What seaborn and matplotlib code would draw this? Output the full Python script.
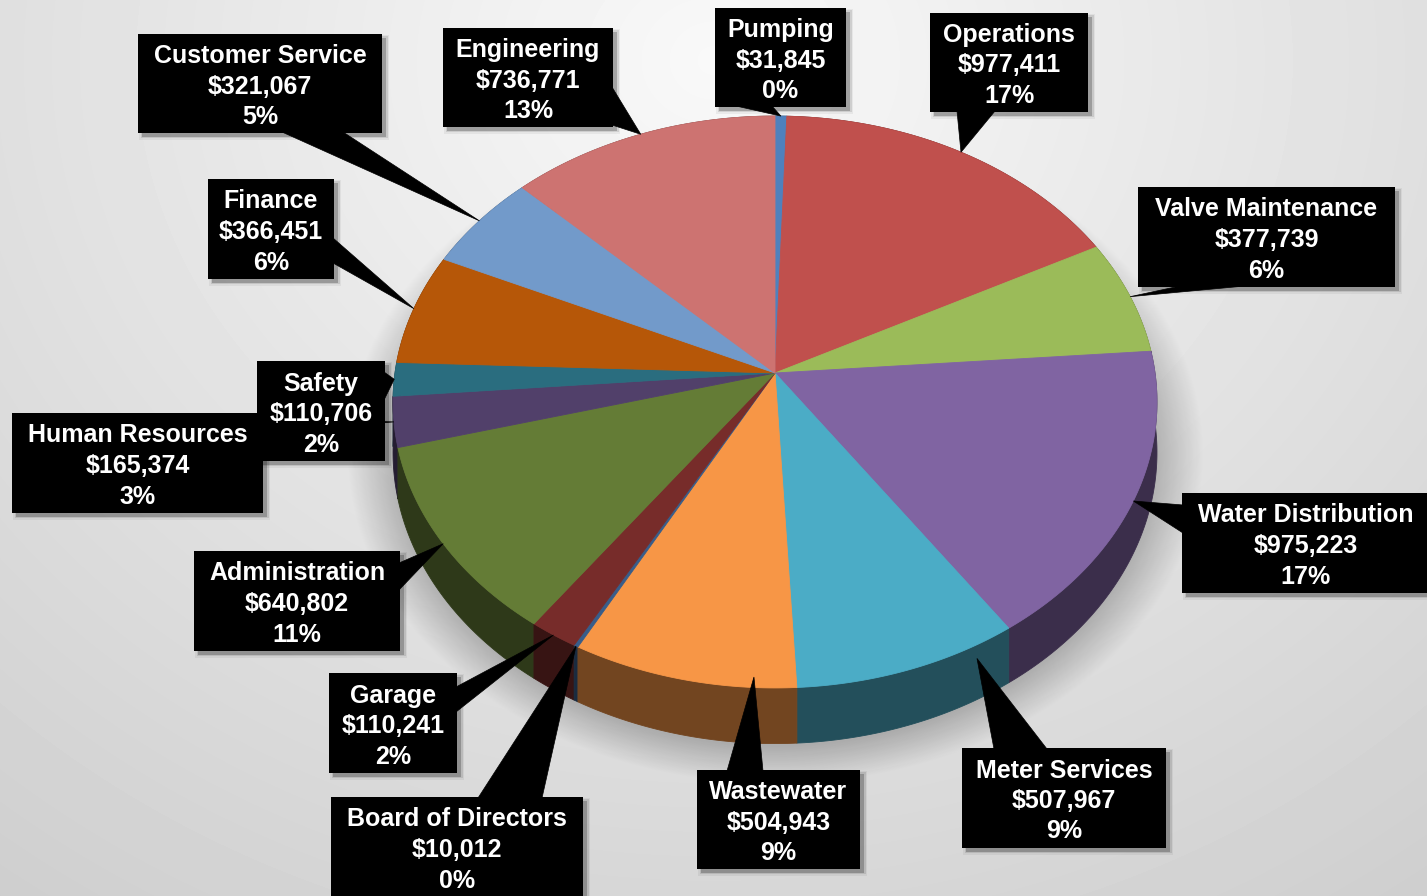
import numpy as np
import matplotlib
matplotlib.use("Agg")
import matplotlib.pyplot as plt
from matplotlib.patches import Polygon, Rectangle
import seaborn as sns

# ---- data -------------------------------------------------------------
categories = ["Pumping", "Operations", "Valve Maintenance", "Water Distribution",
              "Meter Services", "Wastewater", "Board of Directors", "Garage",
              "Administration", "Human Resources", "Safety", "Finance",
              "Customer Service", "Engineering"]
values = [31845, 977411, 377739, 975223, 507967, 504943, 10012, 110241,
          640802, 165374, 110706, 366451, 321067, 736771]
percent_labels = ["0%", "17%", "6%", "17%", "9%", "9%", "0%", "2%",
                  "11%", "3%", "2%", "6%", "5%", "13%"]
colors = ["#4F81BD", "#C0504D", "#9BBB59", "#8064A2", "#4BACC6", "#F79646",
          "#385D8A", "#772C2A", "#647C36", "#51406A", "#2A6D7F", "#B65708",
          "#729ACA", "#CD7371"]

# ---- label layout (box in pixels, leader base on the box edge) --------
boxes = [(715, 8, 846, 107), (930, 13, 1088, 112), (1138, 187, 1395, 287),
         (1182, 493, 1430, 593), (962, 748, 1166, 848), (697, 770, 860, 869),
         (331, 797, 583, 900), (329, 673, 457, 773), (194, 551, 400, 651),
         (12, 413, 263, 513), (257, 361, 385, 461), (208, 179, 334, 279),
         (138, 34, 382, 133), (443, 28, 613, 127)]
leader_base = [((736, 106), (772, 106)), ((957, 111), (995, 111)),
               ((1180, 286), (1245, 286)), ((1183, 505), (1183, 533)),
               ((994, 749), (1047, 749)), ((727, 771), (763, 771)),
               ((478, 798), (542, 798)), ((456, 687), (456, 712)),
               ((399, 563), (399, 590)), ((262, 418), (262, 432)),
               ((384, 372), (384, 400)), ((333, 238), (333, 263)),
               ((282, 132), (343, 132)), ((612, 87), (612, 125))]
# where along the slice (fraction of its sweep, radius, drop on the rim) the leader points
leader_anchor = {4: (0.17, 1.0, 0.25), 5: (0.19, 0.97, 0.0)}

W, H = 1427, 896
sns.set_theme(style="white")
plt.rcParams["font.family"] = ["Liberation Sans", "DejaVu Sans"]

fig = plt.figure(figsize=(W / 100, H / 100), dpi=100)
ax = fig.add_axes([0, 0, 1, 1])
ax.set_xlim(0, W)
ax.set_ylim(H, 0)
ax.axis("off")

# soft radial backdrop
yy, xx = np.mgrid[0:H, 0:W]
t = np.sqrt(((xx - 714) / 1150.0) ** 2 + ((yy - 60) / 1000.0) ** 2)
bg = 0.975 - 0.16 * np.clip(t, 0, 1.3)
ax.imshow(bg, extent=(0, W, H, 0), cmap="gray", vmin=0, vmax=1,
          aspect="auto", zorder=0, interpolation="bilinear")

# ---- 3-D pie geometry -------------------------------------------------
CX, CY, RX, RY, K, DEPTH = 775, 373, 380, 283, 0.1014, 50


def proj(theta_deg, r=1.0, z=0.0):
    th = np.radians(theta_deg)
    u = r * np.sin(th)
    v = -r * np.cos(th)
    s = 1.0 / (1.0 - K * v)
    return CX + RX * u * s, CY + RY * v * s + z * DEPTH * s


# shadow cast below the pie
rho = np.sqrt(((xx - CX) / (RX + 28.0)) ** 2 + ((yy - (CY + 80)) / (RY + 32.0)) ** 2)
sh_alpha = 0.22 * np.clip((1.05 - rho) / 0.12, 0, 1)
shadow = np.zeros((H, W, 4))
shadow[..., 3] = sh_alpha
ax.imshow(shadow, extent=(0, W, H, 0), aspect="auto", zorder=1,
          interpolation="bilinear")

vals = np.array(values, dtype=float)
edges = np.concatenate([[0], np.cumsum(vals) / vals.sum() * 360.0])


def darker(c, f):
    rgb = np.array(matplotlib.colors.to_rgb(c))
    return tuple(rgb * f)


# side walls, back to front
sides = []
for i in range(len(values)):
    a0, a1 = edges[i], edges[i + 1]
    th = np.linspace(a0, a1, max(4, int((a1 - a0) * 2)))
    top = [proj(a) for a in th]
    bot = [proj(a, z=1.0) for a in th[::-1]]
    mid = -np.cos(np.radians((a0 + a1) / 2))
    sides.append((mid, i, top + bot))
for _, i, pts in sorted(sides):
    c = darker(colors[i], 0.46)
    ax.add_patch(Polygon(pts, closed=True, facecolor=c, edgecolor=c,
                         lw=0.6, zorder=2))

# top faces
for i in range(len(values)):
    a0, a1 = edges[i], edges[i + 1]
    th = np.linspace(a0, a1, max(4, int((a1 - a0) * 2)))
    pts = [(CX, CY)] + [proj(a) for a in th]
    ax.add_patch(Polygon(pts, closed=True, facecolor=colors[i],
                         edgecolor=colors[i], lw=0.6, zorder=3))

# ---- callout labels ---------------------------------------------------
for i, name in enumerate(categories):
    x0, y0, x1, y1 = boxes[i]
    w, h = x1 - x0, y1 - y0
    z = 10 + 3 * i
    for pad, a in [(0, 0.22), (1.5, 0.10), (3.0, 0.05)]:
        ax.add_patch(Rectangle((x0 + 4 - pad, y0 + 4 - pad), w + 2 * pad,
                               h + 2 * pad, facecolor="black", alpha=a,
                               lw=0, zorder=z))
    frac, r, drop = leader_anchor.get(i, (0.5, 1.0, 0.0))
    tip = proj(edges[i] + frac * (edges[i + 1] - edges[i]), r, drop)
    b1, b2 = leader_base[i]
    ax.add_patch(Polygon([b1, b2, tip], closed=True, facecolor="black",
                         edgecolor="black", lw=0.5, zorder=z + 1))
    ax.add_patch(Rectangle((x0, y0), w, h, facecolor="black", lw=0,
                           zorder=z + 1))
    cx = (x0 + x1) / 2
    cy = (y0 + min(y1, 897)) / 2
    lines = [name, f"${values[i]:,}", percent_labels[i]]
    for j, txt in enumerate(lines):
        ax.text(cx, cy - 20.5 + j * 30.5, txt, color="white", fontsize=18,
                fontweight="bold", ha="center", va="baseline", zorder=z + 2)

fig.savefig("out.png", dpi=100)
